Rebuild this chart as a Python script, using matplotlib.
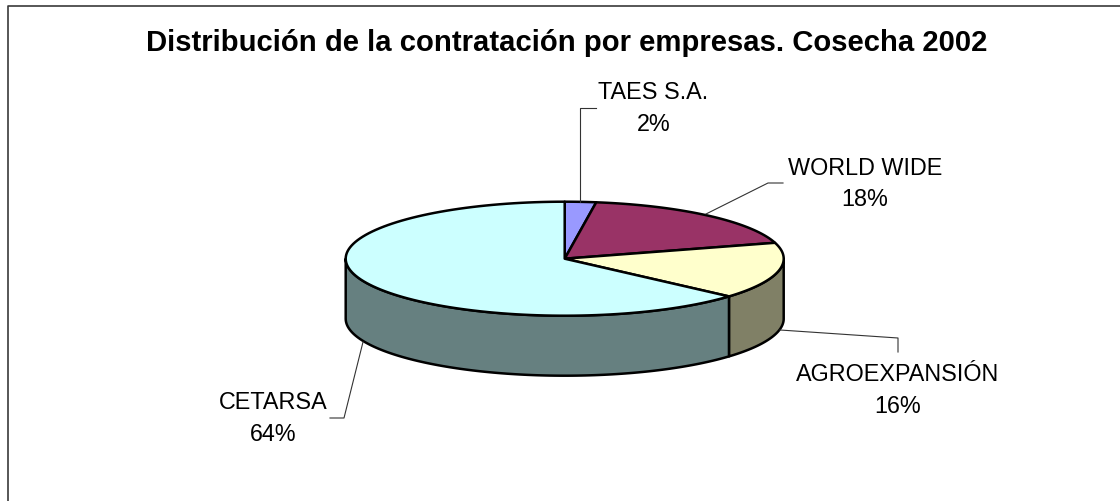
import numpy as np
import matplotlib.pyplot as plt
from matplotlib.patches import Polygon

plt.rcParams['font.family'] = ['Liberation Sans', 'DejaVu Sans']

# datos
empresas = ['TAES S.A.', 'WORLD WIDE', 'AGROEXPANSIÓN', 'CETARSA']
valores = [2.3, 18.2, 16.0, 63.5]
etiquetas_pct = ['2%', '18%', '16%', '64%']
colores_top = ['#9999FF', '#993366', '#FFFFCC', '#CCFFFF']
colores_lado = ['#666699', '#662244', '#808066', '#668080']

# geometria de la tarta en pixeles
cx, cy = 564.7, 259.7
rx, ry = 219, 57
prof = 60

fig = plt.figure(figsize=(11.2, 5.02), dpi=100)
ax = fig.add_axes([0, 0, 1, 1])
ax.set_xlim(0, 1120)
ax.set_ylim(502, 0)
ax.axis('off')

# marco del grafico
ax.plot([8, 8, 1120], [502, 6.5, 6.5], color='#3a3a3a', lw=1.2)


def borde(a0, a1):
    t = np.radians(np.linspace(a0, a1, 120))
    return cx + rx * np.sin(t), cy - ry * np.cos(t)


angulos = np.cumsum([0] + valores) / sum(valores) * 360

# cara lateral visible (de 90 a 270 grados)
for i in range(len(valores)):
    a0 = max(angulos[i], 90)
    a1 = min(angulos[i + 1], 270)
    if a1 <= a0:
        continue
    x, y = borde(a0, a1)
    pts = np.column_stack([np.r_[x, x[::-1]], np.r_[y, y[::-1] + prof]])
    ax.add_patch(Polygon(pts, closed=True, fc=colores_lado[i], ec='black', lw=1.8, joinstyle='round'))

# cara superior
for i in range(len(valores)):
    x, y = borde(angulos[i], angulos[i + 1])
    pts = np.column_stack([np.r_[cx, x], np.r_[cy, y]])
    ax.add_patch(Polygon(pts, closed=True, fc=colores_top[i], ec='black', lw=1.8, joinstyle='round'))

# lineas guia
guias = [
    ([580, 580, 596], [203, 108.5, 108.5]),
    ([706, 768, 783], [215, 184, 184]),
    ([780, 898, 898], [331, 339, 353]),
    ([363, 344, 330], [343, 419, 419]),
]
for gx, gy in guias:
    ax.plot(gx, gy, color='#333333', lw=0.8)

# textos
ax.text(567, 51, 'Distribución de la contratación por empresas. Cosecha 2002',
        fontsize=21.1, fontweight='bold', ha='center', va='baseline')

pos_etiquetas = [(653.5, 99, 131), (865, 175, 206), (898, 381, 413), (273, 409, 441)]
for nombre, pct, (tx, y1, y2) in zip(empresas, etiquetas_pct, pos_etiquetas):
    ax.text(tx, y1, nombre, fontsize=16.8, ha='center', va='baseline')
    ax.text(tx, y2, pct, fontsize=16.8, ha='center', va='baseline')

fig.savefig('out.png', dpi=100)
